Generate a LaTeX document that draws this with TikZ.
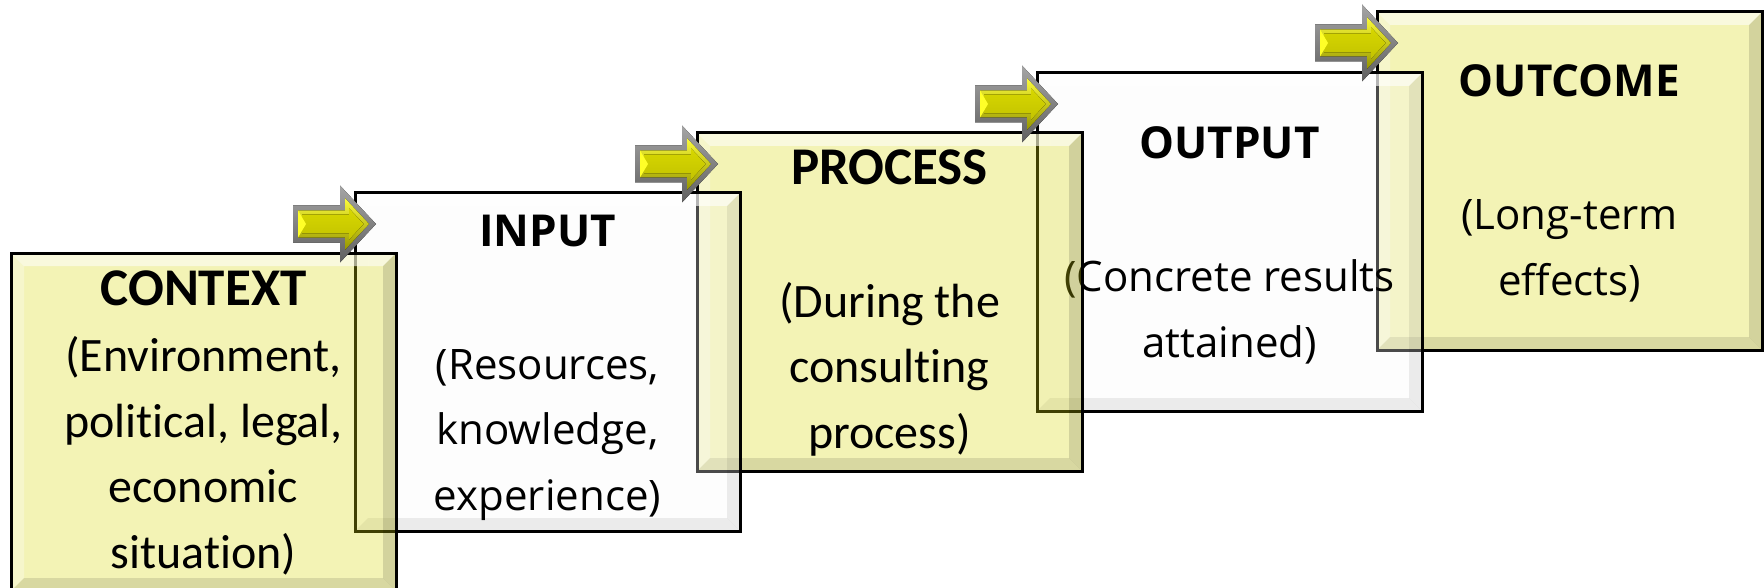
\documentclass[tikz,border=0pt]{standalone}
\usepackage{fontspec}
\setmainfont{Carlito}[Ligatures=NoCommon]
\newfontfamily\uifont{Open Sans}
\usetikzlibrary{calc}

\definecolor{boxyellow}{RGB}{214,214,10}
\definecolor{boxwhite}{RGB}{248,248,248}
\definecolor{arrowgrayhi}{RGB}{165,165,165}
\definecolor{arrowgraylo}{RGB}{95,95,95}
\definecolor{ringhi}{RGB}{250,250,60}
\definecolor{ringlo}{RGB}{150,150,0}
\definecolor{corehi}{RGB}{215,215,0}
\definecolor{coremid}{RGB}{255,255,40}
\definecolor{corelo}{RGB}{195,195,0}

% bevel bands inside a box: opacities of top, left, right, bottom band
\newcommand\bevelbands[4]{%
  \path (path picture bounding box.north west) coordinate (bnw)
        (path picture bounding box.south east) coordinate (bse);
  \fill[white, fill opacity=#1] (bnw) -- (bnw -| bse) -- ++(-13,13) -- ($(bnw)+(13,13)$) -- cycle;
  \fill[white, fill opacity=#2] (bnw) -- ($(bnw)+(13,13)$) -- ($(bnw |- bse)+(13,-13)$) -- (bnw |- bse) -- cycle;
  \fill[black, fill opacity=#3] (bnw -| bse) -- (bse) -- ++(-13,-13) -- ($(bnw -| bse)+(-13,13)$) -- cycle;
  \fill[black, fill opacity=#4] (bnw |- bse) -- (bse) -- ++(-13,-13) -- ($(bnw |- bse)+(13,-13)$) -- cycle;
}

\tikzset{
  box/.style={rectangle, draw=black, line width=3pt, minimum width=385pt,
    minimum height=338pt, inner sep=0pt, outer sep=0pt, anchor=north west},
  yellowbox/.style={box, fill=boxyellow, fill opacity=0.3,
    path picture={\bevelbands{0.55}{0.3}{0.13}{0.11}}},
  whitebox/.style={box, fill=boxwhite, fill opacity=0.3,
    path picture={\bevelbands{0.6}{0.4}{0.07}{0.07}}},
  titleA/.style={font={\fontsize{53pt}{60pt}\selectfont\bfseries}, anchor=base, inner sep=0pt},
  titleB/.style={font={\uifont\fontsize{44pt}{60pt}\selectfont\bfseries}, anchor=base, inner sep=0pt},
  % multi-line texts are placed by the baseline of their last line
  bodyA/.style={font={\fontsize{48pt}{65.5pt}\selectfont}, align=center, anchor=base, inner sep=0pt},
  bodyB/.style={font={\uifont\fontsize{42pt}{65.5pt}\selectfont}, align=center, anchor=base, inner sep=0pt},
  flowarrow/.pic={
    % grey rim
    \fill[top color=arrowgrayhi, bottom color=arrowgraylo]
      (-83,-18.5) -- (-36,-18.5) -- (-36,-38.5) -- (0,0) -- (-36,38.5) -- (-36,18.5) -- (-83,18.5) -- cycle;
    % bevelled yellow ring
    \fill[top color=ringhi, bottom color=ringlo]
      (-78,-13.5) -- (-31,-13.5) -- (-31,-25.8) -- (-6.9,0) -- (-31,25.8) -- (-31,13.5) -- (-78,13.5) -- cycle;
    % yellow face
    \fill[top color=corehi, middle color=coremid, bottom color=corelo]
      (-74,-9.5) -- (-27,-9.5) -- (-27,-15.7) -- (-12.3,0) -- (-27,15.7) -- (-27,9.5) -- (-74,9.5) -- cycle;
    \fill[coremid] (-78,-13.5) -- (-70,0) -- (-78,13.5) -- cycle;
  },
}

\begin{document}
\begin{tikzpicture}[x=1pt, y=-1pt]
\useasboundingbox (0,0) rectangle (1764,588);
\clip (0,0) rectangle (1764,588);

% stage 5
\node[yellowbox] (outcome) at (1377,12) {};
\node[titleB] (outcome-title) at ($(outcome.north)+(0,85)$) {OUTCOME};
\node[bodyB] (outcome-text) at ($(outcome.north)+(0,283)$) {(Long-term\\effects)};

% stage 4
\node[whitebox] (output) at (1037,73) {};
\node[titleB] (output-title) at ($(output.north)+(0,86)$) {OUTPUT};
\node[bodyB] (output-text) at ($(output.north)+(0,284)$) {(Concrete results\\attained)};

% stage 3
\node[yellowbox] (process) at (697,133) {};
\node[titleA] (process-title) at ($(process.north)+(0,52)$) {PROCESS};
\node[bodyA] (process-text) at ($(process.north)+(0,315)$) {(During the\\consulting\\process)};

% stage 2
\node[whitebox] (input) at (355,193) {};
\node[titleB] (input-title) at ($(input.north)+(0,54)$) {INPUT};
\node[bodyB] (input-text) at ($(input.north)+(0,317)$) {(Resources,\\knowledge,\\experience)};

% stage 1
\node[yellowbox] (context) at (11,253) {};
\node[titleA] (context-title) at ($(context.north)+(0,52)$) {CONTEXT};
\node[bodyA] (context-text) at ($(context.north)+(0,315)$) {(Environment,\\political, legal,\\economic\\situation)};

% arrows leading into each following stage
\pic at ($(input.north west)+(21,31)$) {flowarrow};
\pic at ($(process.north west)+(21,31)$) {flowarrow};
\pic at ($(output.north west)+(21,31)$) {flowarrow};
\pic at ($(outcome.north west)+(21,31)$) {flowarrow};
\end{tikzpicture}
\end{document}
